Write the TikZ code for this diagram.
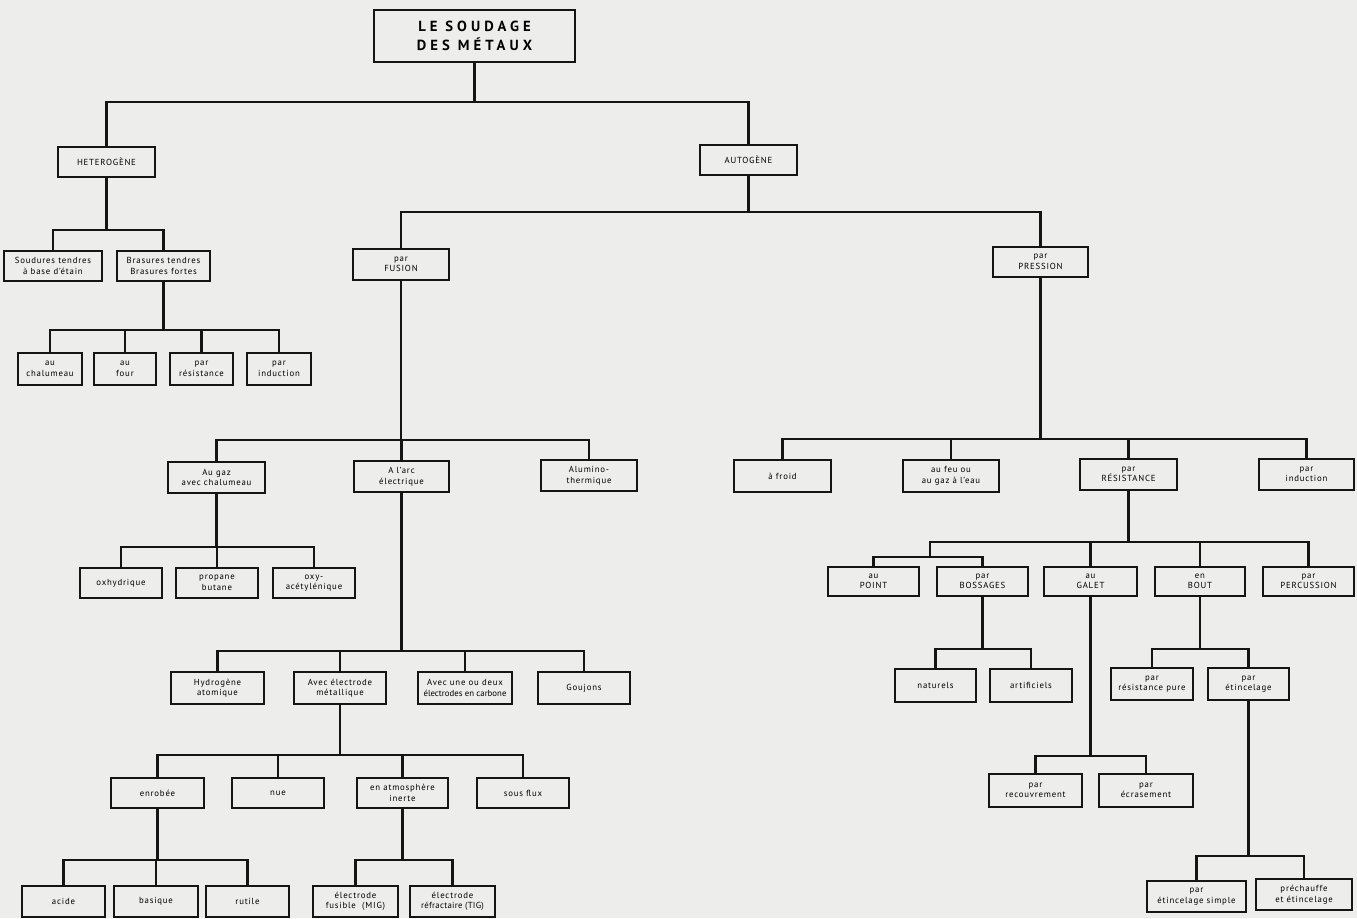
\documentclass[tikz,border=0pt]{standalone}
\usepackage{fontspec}
\setmainfont{PT Sans}
\definecolor{paper}{HTML}{EDEDEB}
\definecolor{ink}{HTML}{151515}
\newcommand\bx[6]{\node[box,minimum width={(#4-#2)*0.03cm},minimum height={(#5-#3)*0.03cm}] (#1) at ({(#2+#4)/2},{(#3+#5)/2}) {#6};}
\newcommand\branch[3]{%
  \draw[wire] (#1.south) -- (#1.south |- 0,#2);
  \foreach \c in {#3} {\draw[wire] (#1.south |- 0,#2) -| (\c.north);}}
\begin{document}
\begin{tikzpicture}[x=0.03cm,y=-0.03cm,
  box/.style={draw=ink,line width=2.1pt,align=center,inner sep=0pt,
    font=\fontsize{7.5}{9}\selectfont\addfontfeatures{LetterSpace=9}},
  titlebox/.style={box,font=\fontsize{12.5}{16.5}\selectfont\bfseries\addfontfeatures{LetterSpace=28}},
  wire/.style={draw=ink,line width=2pt}]
\fill[paper] (0,0) rectangle (1357,918);
\useasboundingbox (0,0) rectangle (1357,918);
% boxes
\node[titlebox,minimum width={201*0.03cm},minimum height={52*0.03cm}] (title) at (474.5,36) {LE SOUDAGE\\DES MÉTAUX};
\bx{het}{58}{147}{155}{177}{HETEROGÈNE}
\bx{aut}{700}{145}{797}{175}{AUTOGÈNE}
\bx{soud}{4}{251}{102}{281}{Soudures tendres\\à base d'étain}
\bx{bras}{117}{251}{210}{281}{Brasures tendres\\Brasures fortes}
\bx{chal}{18}{353}{82}{385}{au\\chalumeau}
\bx{four}{94}{353}{156}{385}{au\\four}
\bx{pres}{170}{353}{233}{385}{par\\résistance}
\bx{indu}{247}{353}{311}{385}{par\\induction}
\bx{fus}{353}{249}{449}{280}{par\\FUSION}
\bx{pre}{993}{247}{1088}{277}{par\\PRESSION}
\bx{gaz}{168}{462}{265}{493}{Au gaz\\avec chalumeau}
\bx{arc}{354}{461}{449}{492}{A l'arc\\électrique}
\bx{alu}{541}{460}{637}{491}{Alumino-\\thermique}
\bx{oxh}{80}{568}{162}{598}{oxhydrique}
\bx{prop}{176}{568}{258}{598}{propane\\butane}
\bx{oxy}{273}{568}{355}{598}{oxy-\\acétylénique}
\bx{hyd}{171}{672}{264}{704}{Hydrogène\\atomique}
\bx{avec}{294}{672}{386}{704}{Avec électrode\\métallique}
\bx{carb}{418}{672}{512}{704}{Avec une ou deux\\{\addfontfeatures{LetterSpace=0}électrodes en carbone}}
\bx{gouj}{538}{672}{630}{704}{Goujons}
\bx{enr}{111}{778}{204}{808}{enrobée}
\bx{nue}{232}{778}{324}{808}{nue}
\bx{atm}{357}{778}{448}{808}{en atmosphère\\inerte}
\bx{flux}{477}{778}{569}{808}{sous flux}
\bx{acide}{22}{886}{105}{917}{acide}
\bx{bas}{114}{886}{198}{917}{basique}
\bx{rut}{206}{886}{289}{917}{rutile}
\bx{mig}{313}{886}{398}{917}{électrode\\fusible\ \ (MIG)}
\bx{tig}{410}{886}{495}{917}{électrode\\{\addfontfeatures{LetterSpace=3}réfractaire (TIG)}}
\bx{froid}{734}{460}{831}{492}{à froid}
\bx{feu}{903}{460}{999}{492}{au feu ou\\au gaz à l'eau}
\bx{res}{1080}{459}{1177}{490}{par\\RÉSISTANCE}
\bx{ind2}{1259}{459}{1354}{490}{par\\induction}
\bx{point}{828}{567}{919}{596}{au\\POINT}
\bx{boss}{937}{567}{1028}{596}{par\\BOSSAGES}
\bx{galet}{1044}{567}{1137}{596}{au\\GALET}
\bx{bout}{1155}{567}{1245}{596}{en\\BOUT}
\bx{perc}{1263}{567}{1354}{596}{par\\PERCUSSION}
\bx{nat}{895}{669}{976}{702}{naturels}
\bx{art}{990}{669}{1072}{702}{artificiels}
\bx{rpure}{1111}{668}{1193}{700}{par\\résistance pure}
\bx{etin}{1208}{668}{1289}{700}{par\\étincelage}
\bx{recv}{989}{774}{1082}{807}{par\\recouvrement}
\bx{ecr}{1099}{774}{1193}{807}{par\\écrasement}
\bx{simp}{1147}{881}{1246}{912}{par\\étincelage simple}
\bx{prech}{1256}{879}{1352}{910}{préchauffe\\et étincelage}
% connectors
\branch{title}{102}{het,aut}
\branch{het}{230}{soud,bras}
\branch{bras}{330}{chal,four,pres,indu}
\branch{aut}{212}{fus,pre}
\branch{fus}{440}{gaz,arc,alu}
\branch{gaz}{547}{oxh,prop,oxy}
\branch{arc}{651}{hyd,avec,carb,gouj}
\branch{avec}{755}{enr,nue,atm,flux}
\branch{enr}{860}{acide,bas,rut}
\branch{atm}{860}{mig,tig}
\branch{pre}{439}{froid,feu,res,ind2}
\branch{res}{542}{galet,bout,perc}
\coordinate (sub) at (930,557);
\draw[wire] (res.south |- 0,542) -| (sub);
\draw[wire] (sub) -| (point.north);
\draw[wire] (sub) -| (boss.north);
\branch{boss}{649}{nat,art}
\branch{bout}{649}{rpure,etin}
\branch{galet}{756}{recv,ecr}
\branch{etin}{856}{simp,prech}
\end{tikzpicture}
\end{document}
